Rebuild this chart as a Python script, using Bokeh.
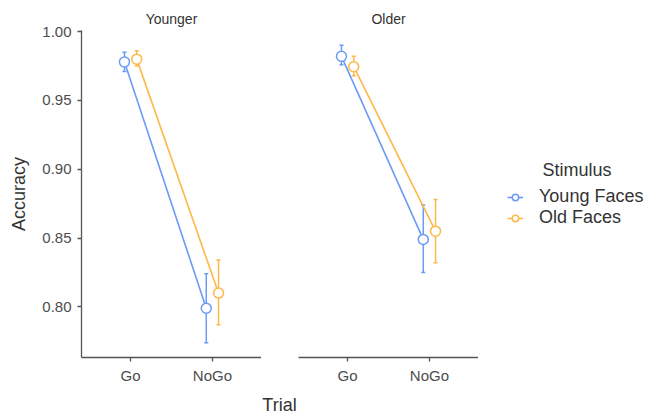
from bokeh.plotting import figure
from bokeh.models import (FactorRange, Range1d, ColumnDataSource, Whisker, TeeHead,
                          Legend, LegendItem, Label, FixedTicker, NumeralTickFormatter)
from bokeh.transform import dodge
from bokeh.layouts import row, column
from bokeh.embed import file_html
from bokeh.resources import INLINE

# ---- data ----
groups = ["Younger", "Older"]
trials = ["Go", "NoGo"]
series = ["Young Faces", "Old Faces"]

young_faces_acc = {"Younger": [0.978, 0.799], "Older": [0.982, 0.849]}
young_faces_lower = {"Younger": [0.971, 0.774], "Older": [0.976, 0.825]}
young_faces_upper = {"Younger": [0.985, 0.824], "Older": [0.990, 0.874]}

old_faces_acc = {"Younger": [0.980, 0.810], "Older": [0.9745, 0.855]}
old_faces_lower = {"Younger": [0.975, 0.787], "Older": [0.968, 0.832]}
old_faces_upper = {"Younger": [0.986, 0.834], "Older": [0.982, 0.878]}

y_ticks = [0.80, 0.85, 0.90, 0.95, 1.00]

x_title = "Trial"
y_title = "Accuracy"
legend_title = "Stimulus"

colors = ["#6A9BF5", "#FDB84A"]
offsets = [-0.075, 0.075]
FONT = "Liberation Sans"
TEXT = "#333333"

# y range like ggplot (5% expansion of data extent)
all_low = [v for d in (young_faces_lower, old_faces_lower) for g in groups for v in d[g]]
all_up = [v for d in (young_faces_upper, old_faces_upper) for g in groups for v in d[g]]
lo, hi = min(all_low), max(all_up)
pad = 0.05 * (hi - lo)
y_range = Range1d(lo - pad, hi + pad)

data = {
    "Young Faces": (young_faces_acc, young_faces_lower, young_faces_upper),
    "Old Faces": (old_faces_acc, old_faces_lower, old_faces_upper),
}

TOP, FH, BOTTOM = 30, 327, 35


def style_title(t, size):
    t.text_font = FONT
    t.text_font_size = size
    t.text_font_style = "normal"
    t.text_color = TEXT


def bare(p):
    p.outline_line_color = None
    p.xgrid.visible = False
    p.ygrid.visible = False
    p.background_fill_color = "white"
    p.border_fill_color = "white"


def add_series(p, group, name, col, off):
    acc, lower, upper = data[name]
    src = ColumnDataSource(dict(trial=trials, acc=acc[group], lower=lower[group], upper=upper[group]))
    xd = dodge("trial", off, range=p.x_range)
    lr = p.line(x=xd, y="acc", source=src, line_color=col, line_width=1.6)
    sr = p.scatter(x=xd, y="acc", source=src, marker="circle", size=10,
                   fill_color="white", line_color=col, line_width=1.5)
    return src, xd, lr, sr


def make_panel(group, first):
    p = figure(
        x_range=FactorRange(*trials, range_padding=0.1, range_padding_units="percent"),
        y_range=y_range,
        frame_width=180, frame_height=FH,
        min_border_left=81 if first else 37,
        min_border_right=0,
        min_border_top=TOP, min_border_bottom=BOTTOM,
        output_backend="svg", toolbar_location=None,
        title=group,
    )
    p.title.align = "center"
    style_title(p.title, "14px")
    p.title.standoff = 7
    bare(p)

    for ax in (p.xaxis[0], p.yaxis[0]):
        ax.axis_line_color = "#555555"
        ax.axis_line_width = 1.3
        ax.major_tick_line_color = "#555555"
        ax.major_tick_line_width = 1.3
        ax.major_tick_in = 0
        ax.major_tick_out = 4
        ax.minor_tick_line_color = None
        ax.major_label_text_font = FONT
        ax.major_label_text_font_size = "15px"
        ax.major_label_text_color = "#4D4D4D"
        ax.axis_label_text_font = FONT
        ax.axis_label_text_font_size = "18px"
        ax.axis_label_text_font_style = "normal"
        ax.axis_label_text_color = TEXT
    p.xaxis.major_label_standoff = 5
    p.yaxis.ticker = FixedTicker(ticks=y_ticks)
    p.yaxis.formatter = NumeralTickFormatter(format="0.00")
    p.yaxis.major_label_standoff = 6
    if first:
        p.yaxis.axis_label = y_title
        p.yaxis.axis_label_standoff = 10
    else:
        p.yaxis.visible = False

    for name, col, off in zip(series, colors, offsets):
        src, xd, lr, sr = add_series(p, group, name, col, off)
        w = Whisker(source=src, base=xd, lower="lower", upper="upper", line_color=col, line_width=1.5,
                    upper_head=TeeHead(size=4, line_color=col, line_width=1.5),
                    lower_head=TeeHead(size=4, line_color=col, line_width=1.5))
        p.add_layout(w)
        p.renderers.remove(sr)
        p.renderers.append(sr)
    return p


p1 = make_panel("Younger", True)
p2 = make_panel("Older", False)

# ---- legend panel (frame aligned with the facets) ----
p3 = figure(x_range=FactorRange(*trials), y_range=y_range,
            frame_width=166, frame_height=FH,
            min_border_left=0, min_border_right=0,
            min_border_top=TOP, min_border_bottom=BOTTOM,
            output_backend="svg", toolbar_location=None)
p3.xaxis.visible = False
p3.yaxis.visible = False
bare(p3)
items = []
for name, col, off in zip(series, colors, offsets):
    src, xd, lr, sr = add_series(p3, groups[0], name, col, off)
    lr.visible = False
    sr.visible = False
    items.append(LegendItem(label=name, renderers=[lr, sr]))
legend = Legend(items=items, location=(29, 129), orientation="vertical",
                label_text_font=FONT, label_text_font_size="18px", label_text_color=TEXT,
                label_height=20, glyph_height=16, glyph_width=16, label_standoff=16,
                spacing=0, padding=0, margin=0, border_line_color=None,
                background_fill_alpha=0)
p3.add_layout(legend, "center")
p3.add_layout(Label(x=64, y=188, x_units="screen", y_units="screen", text=legend_title,
                    text_font=FONT, text_font_size="18px", text_color=TEXT,
                    text_baseline="middle", text_align="left"))

# ---- shared x-axis title ----
p4 = figure(width=558, height=24, min_border_left=0, min_border_right=0,
            min_border_top=0, min_border_bottom=0,
            output_backend="svg", toolbar_location=None, title=x_title)
p4.title.align = "center"
p4.title.standoff = 0
style_title(p4.title, "18px")
p4.xaxis.visible = False
p4.yaxis.visible = False
bare(p4)

layout = column(row(p1, p2, p3), p4)
open("out.html", "w").write(file_html(layout, INLINE))
